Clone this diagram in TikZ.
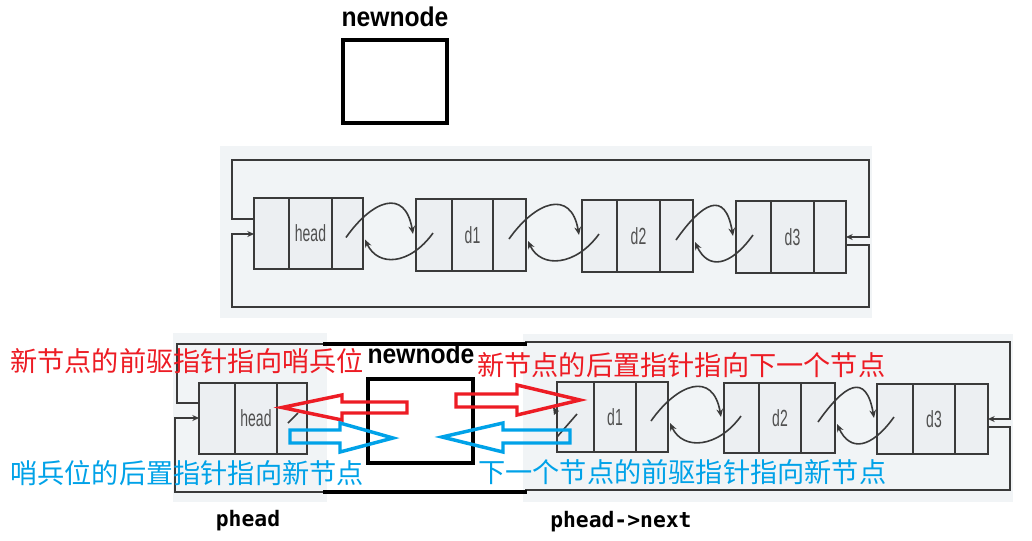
\documentclass[tikz,border=0pt]{standalone}
\usepackage{fontspec}
\setmainfont{Liberation Sans}
\newfontfamily\cjk{Noto Sans CJK SC}
\newfontfamily\monof{DejaVu Sans Mono}
\usetikzlibrary{arrows.meta,calc}
\definecolor{redc}{HTML}{ED1C24}
\definecolor{bluec}{HTML}{00A2E8}
\definecolor{lnc}{HTML}{3A3A3A}
\definecolor{bgc}{HTML}{F1F4F6}
\definecolor{boxc}{HTML}{ECEFF2}
\definecolor{lblc}{HTML}{505050}
\newcommand\llbox[8]{%
 \node[cellbox,minimum width={(#4-#2)*0.75pt},minimum height={(#5-#3)*0.75pt}] (#1) at ({(#2+#4)/2},{(#3+#5)/2}) {};
 \draw[lnc,line width=1.3pt] (#6,#3) -- (#6,#5) (#7,#3) -- (#7,#5);
 \node[lbl] (#1t) at ({(#6+#7)/2},{(#3+#5)/2}) {\scalebox{0.6}[1]{#8}};
}
\newcommand\gapcurves[2]{%
 \draw[ptr] ($(#1.east)+(-17,4)$) .. controls ($(#1.east)+(9,-33)$) and ($(#2.west)+(-11,-48)$) .. ($(#2.west)+(-3,-1)$);
 \draw[ptr] ($(#2.west)+(17,-2)$) .. controls ($(#2.west)+(-6,30)$) and ($(#1.east)+(15,34)$) .. ($(#1.east)+(2,6)$);
}
\begin{document}
\begin{tikzpicture}[x=0.75pt,y=-0.75pt,
  cellbox/.style={draw=lnc,line width=1.5pt,fill=boxc,inner sep=0,outer sep=0},
  lbl/.style={text=lblc,font=\fontsize{17.5}{18}\selectfont,inner sep=0},
  loopln/.style={draw=lnc,line width=1.5pt},
  lptip/.style={-{Stealth[length=5pt,width=4.5pt]}},
  ptr/.style={draw=lnc,line width=1.2pt,-{Stealth[length=6pt,width=5pt]}},
  nnbox/.style={draw=black,line width=3pt,fill=white,inner sep=0},
  nntxt/.style={font=\bfseries\fontsize{18.5}{20}\selectfont,inner sep=0},
  cn/.style={font=\cjk\fontsize{20.4}{22}\selectfont,inner sep=0,anchor=west},
  blk/.style={line width=2.6pt,line join=miter},
  mono/.style={font=\monof\bfseries\fontsize{16}{18}\selectfont,inner sep=0}
]
\useasboundingbox[fill=white] (0,0) rectangle (1032,540);

% ---------- top: new node ----------
\node[nntxt] (nn1) at (395,17) {\scalebox{1}[1.1]{newnode}};
\node[nnbox,minimum width=78pt,minimum height=62.25pt] (nb1) at (395,81.5) {};

% ---------- middle: list ----------
\fill[bgc] (220,146) rectangle (872,318);
\coordinate (ml1) at (232,219);
\coordinate (ml2) at (232,160);
\coordinate (mr1) at (869,160);
\coordinate (mr2) at (869,237);
\coordinate (mr3) at (869,245);
\coordinate (mr4) at (869,307);
\coordinate (ml4) at (232,307);
\coordinate (ml3) at (232,234);
\llbox{m0}{254}{198}{363}{269}{289}{332}{head}
\llbox{m1}{416}{199}{526}{271}{452}{493}{d1}
\llbox{m2}{582}{200}{693}{272}{617}{660}{d2}
\llbox{m3}{736}{201}{846}{273}{771}{814}{d3}
\draw[loopln,lptip] (m0.west |- ml1) -- (ml1) -- (ml2) -- (mr1) -- (mr2) -- (m3.east |- mr2);
\draw[loopln,lptip] (m3.east |- mr3) -- (mr3) -- (mr4) -- (ml4) -- (ml3) -- (m0.west |- ml3);
\gapcurves{m0}{m1}
\gapcurves{m1}{m2}
\gapcurves{m2}{m3}

% ---------- bottom: insertion ----------
\fill[bgc] (173,333) rectangle (327,502);
\fill[bgc] (523,334) rectangle (1013,502);
\coordinate (nl1) at (177,403);
\coordinate (nl2) at (177,344);
\coordinate (nlA) at (325,344);
\coordinate (nrA) at (525,342);
\coordinate (nr1) at (1010,342);
\coordinate (nr2) at (1010,419);
\coordinate (nr3) at (1010,427);
\coordinate (nr4) at (1010,490);
\coordinate (nrB) at (525,490);
\coordinate (nlB) at (325,492);
\coordinate (nl4) at (175,492);
\coordinate (nl3) at (175,418);
\llbox{n0}{199}{383}{307}{454}{235}{277}{head}
\llbox{n1}{557}{382}{668}{452}{594}{636}{d1}
\llbox{n2}{724}{383}{835}{453}{759}{801}{d2}
\llbox{n3}{877}{384}{988}{454}{913}{955}{d3}
\draw[loopln] (n0.west |- nl1) -- (nl1) -- (nl2) -- (nlA);
\draw[loopln,lptip] (nrA) -- (nr1) -- (nr2) -- (n3.east |- nr2);
\draw[loopln] (n3.east |- nr3) -- (nr3) -- (nr4) -- (nrB);
\draw[loopln,lptip] (nlB) -- (nl4) -- (nl3) -- (n0.west |- nl3);
\gapcurves{n1}{n2}
\gapcurves{n2}{n3}
\draw[lnc,line width=1.2pt] ($(n0.east)+(-19,4.5)$) -- ($(n0.east)+(-9,-5.5)$);
\draw[lnc,line width=1.2pt] ($(n1.west)+(0,20)$) -- ($(n1.west)+(20,-3)$);
\fill[lnc] ($(n1.west)+(-4,-10)$) -- ($(n1.west)+(2,-6)$) -- ($(n1.west)+(-3,-2)$) -- cycle;

\draw[black,line width=3.2pt] (323,344) -- (527,344);
\draw[black,line width=3.2pt] (323,492) -- (527,492);
\node[nntxt] (nn2) at (421,354) {\scalebox{1}[1.1]{newnode}};
\node[nnbox,minimum width=78.75pt,minimum height=63pt] (nb2) at (420.5,421) {};

% block arrows
\draw[redc,blk] (407,402) -- (342,402) -- (342,395) -- (282,407.5) -- (342,420) -- (342,413) -- (407,413) -- cycle;
\draw[redc,blk] (456,394) -- (517,394) -- (517,385) -- (580,400) -- (517,415) -- (517,407) -- (456,407) -- cycle;
\draw[bluec,blk] (290,430) -- (340,430) -- (340,423) -- (393,438) -- (340,452) -- (340,443) -- (290,443) -- cycle;
\draw[bluec,blk] (570,430) -- (503,430) -- (503,423) -- (442,437) -- (503,452) -- (503,443) -- (570,443) -- cycle;

% texts
\node[cn,text=redc] (t1) at (10,361) {新节点的前驱指针指向哨兵位};
\node[cn,text=redc] (t2) at (477,365) {新节点的后置指针指向下一个节点};
\node[cn,text=bluec] (t3) at (10,473) {哨兵位的后置指针指向新节点};
\node[cn,text=bluec] (t4) at (478,472) {下一个节点的前驱指针指向新节点};
\node[mono] (p1) at (248,521) {phead};
\node[mono,anchor=west] (p2) at (550,522) {phead->next};
\end{tikzpicture}
\end{document}
